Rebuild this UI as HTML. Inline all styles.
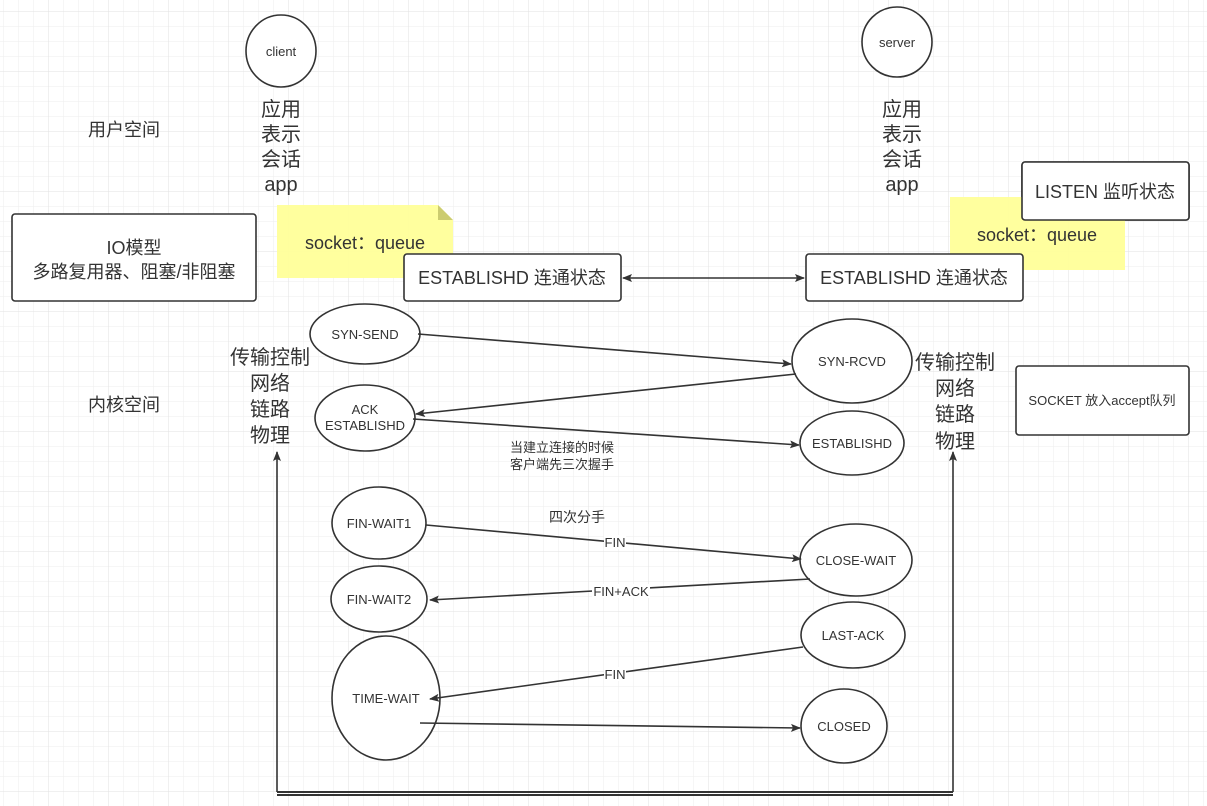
<!DOCTYPE html>
<html><head><meta charset="utf-8"><style>
html,body{margin:0;padding:0;background:#fff}
svg{display:block}
text{font-family:"Liberation Sans","Noto Sans CJK SC",sans-serif;fill:#333}
</style></head><body>
<svg width="1207" height="806" xmlns="http://www.w3.org/2000/svg">
<defs>
<pattern id="g1" x="3" y="11.5" width="15" height="15" patternUnits="userSpaceOnUse"><path d="M0 0H15M0 0V15" stroke="#eeeeee" stroke-width="1" fill="none"/></pattern>
<pattern id="g2" x="48" y="11.5" width="60" height="60" patternUnits="userSpaceOnUse"><path d="M0 0H60M0 0V60" stroke="#e2e2e2" stroke-width="1" fill="none"/></pattern>
<marker id="a" markerWidth="10" markerHeight="8" refX="9" refY="4" orient="auto" markerUnits="userSpaceOnUse"><path d="M0 0L10 4L0 8L2 4Z" fill="#333"/></marker>
<marker id="as" markerWidth="10" markerHeight="8" refX="1" refY="4" orient="auto" markerUnits="userSpaceOnUse"><path d="M10 0L0 4L10 8L8 4Z" fill="#333"/></marker>
</defs>
<rect width="1207" height="806" fill="url(#g1)"/>
<rect width="1207" height="806" fill="url(#g2)"/>
<g fill="#fff" stroke="#333" stroke-width="1.6">
<ellipse cx="281" cy="51" rx="35" ry="36"/>
<ellipse cx="897" cy="42" rx="35" ry="35"/>
<rect x="12" y="214" width="244" height="87" rx="3"/>
<rect x="1022" y="162" width="167" height="58" rx="3"/>
<rect x="1016" y="366" width="173" height="69" rx="3"/>
</g>
<path d="M277 205H438L453 220V278H277Z" fill="#ffff99" opacity="0.95"/>
<path d="M438 205L453 220H438Z" fill="#cccc70"/>
<rect x="950" y="197" width="175" height="73" fill="#ffff99" opacity="0.95"/>
<rect x="1022" y="162" width="167" height="58" rx="3" fill="#fff" stroke="#333" stroke-width="1.6"/>
<g fill="#fff" stroke="#333" stroke-width="1.6">
<rect x="404" y="254" width="217" height="47" rx="3"/>
<rect x="806" y="254" width="217" height="47" rx="3"/>
<ellipse cx="365" cy="334" rx="55" ry="30"/>
<ellipse cx="852" cy="361" rx="60" ry="42"/>
<ellipse cx="365" cy="418" rx="50" ry="33"/>
<ellipse cx="852" cy="443" rx="52" ry="32"/>
<ellipse cx="379" cy="523" rx="47" ry="36"/>
<ellipse cx="856" cy="560" rx="56" ry="36"/>
<ellipse cx="379" cy="599" rx="48" ry="33"/>
<ellipse cx="853" cy="635" rx="52" ry="33"/>
<ellipse cx="386" cy="698" rx="54" ry="62"/>
<ellipse cx="844" cy="726" rx="43" ry="37"/>
</g>
<g stroke="#333" stroke-width="1.6" fill="none">
<line x1="623" y1="278" x2="804" y2="278" marker-start="url(#as)" marker-end="url(#a)"/>
<line x1="418" y1="334" x2="791" y2="364" marker-end="url(#a)"/>
<line x1="796" y1="374" x2="416" y2="414" marker-end="url(#a)"/>
<line x1="413" y1="419" x2="799" y2="445" marker-end="url(#a)"/>
<line x1="426" y1="525" x2="801" y2="559" marker-end="url(#a)"/>
<line x1="810" y1="579" x2="430" y2="600" marker-end="url(#a)"/>
<line x1="803" y1="647" x2="430" y2="699" marker-end="url(#a)"/>
<line x1="420" y1="723" x2="800" y2="728" marker-end="url(#a)"/>
<path d="M277 792V452" marker-end="url(#a)"/>
<path d="M953 792V452" marker-end="url(#a)"/>
<path d="M277 792H953M277 795H953" stroke-width="2"/>
</g>
<g font-size="13" text-anchor="middle">
<rect x="604" y="535" width="22" height="14" fill="#fff"/>
<text x="615" y="547">FIN</text>
<rect x="592" y="584" width="58" height="14" fill="#fff"/>
<text x="621" y="596">FIN+ACK</text>
<rect x="604" y="667" width="22" height="14" fill="#fff"/>
<text x="615" y="679">FIN</text>
</g>
<g font-size="13" text-anchor="middle">
<text x="281" y="56">client</text>
<text x="897" y="47">server</text>
<text x="365" y="339">SYN-SEND</text>
<text x="852" y="366">SYN-RCVD</text>
<text x="365" y="414">ACK</text>
<text x="365" y="430">ESTABLISHD</text>
<text x="852" y="448">ESTABLISHD</text>
<text x="379" y="528">FIN-WAIT1</text>
<text x="856" y="565">CLOSE-WAIT</text>
<text x="379" y="604">FIN-WAIT2</text>
<text x="853" y="640">LAST-ACK</text>
<text x="386" y="703">TIME-WAIT</text>
<text x="844" y="731">CLOSED</text>
<text x="1102" y="405">SOCKET 放入accept队列</text>
<text x="562" y="452">当建立连接的时候</text>
<text x="562" y="469">客户端先三次握手</text>
<text x="577" y="522" font-size="14">四次分手</text>
</g>
<g font-size="20" text-anchor="middle">
<text x="281" y="116">应用</text><text x="281" y="141">表示</text><text x="281" y="166">会话</text><text x="281" y="191">app</text>
<text x="902" y="116">应用</text><text x="902" y="141">表示</text><text x="902" y="166">会话</text><text x="902" y="191">app</text>
<text x="270" y="364">传输控制</text><text x="270" y="390">网络</text><text x="270" y="416">链路</text><text x="270" y="442">物理</text>
<text x="955" y="369">传输控制</text><text x="955" y="395">网络</text><text x="955" y="421">链路</text><text x="955" y="448">物理</text>
</g>
<g font-size="18" text-anchor="middle">
<text x="124" y="136">用户空间</text>
<text x="124" y="411">内核空间</text>
<text x="134" y="254">IO模型</text>
<text x="134" y="278">多路复用器、阻塞/非阻塞</text>
<text x="1105" y="198">LISTEN 监听状态</text>
<text x="512" y="284">ESTABLISHD 连通状态</text>
<text x="914" y="284">ESTABLISHD 连通状态</text>
<text x="365" y="249">socket：queue</text>
<text x="1037" y="241">socket：queue</text>
</g>
</svg>
</body></html>
